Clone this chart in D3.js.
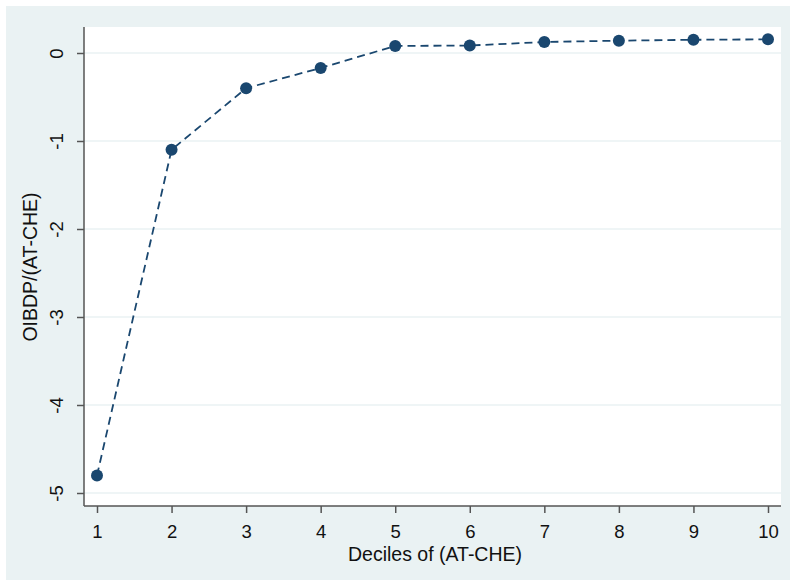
<!DOCTYPE html>
<html>
<head>
<meta charset="utf-8">
<script src="https://cdn.jsdelivr.net/npm/d3@7"></script>
<style>
  body { margin: 0; background: #fff; }
  text { font-family: "Liberation Sans", Arial, sans-serif; fill: #111; }
</style>
</head>
<body>
<div id="chart"></div>
<script>
// deciles of (AT-CHE) and mean OIBDP/(AT-CHE) per decile
const deciles = [1, 2, 3, 4, 5, 6, 7, 8, 9, 10];
const ratios = [-4.80, -1.10, -0.40, -0.17, 0.08, 0.085, 0.125, 0.14, 0.15, 0.155];
const yTicks = [0, -1, -2, -3, -4, -5];

const width = 790, height = 580;
const plot = {left: 84, top: 27, right: 781, bottom: 506};

const svg = d3.select('#chart').append('svg')
  .attr('width', width)
  .attr('height', height);

// outer graph region and white plot region
svg.append('rect')
  .attr('x', 6).attr('y', 6)
  .attr('width', width - 6).attr('height', height - 6)
  .attr('fill', '#eaf2f3');
svg.append('rect')
  .attr('x', plot.left).attr('y', plot.top)
  .attr('width', plot.right - plot.left).attr('height', plot.bottom - plot.top)
  .attr('fill', '#fff');

const x = d3.scaleLinear().domain([1, 10]).range([97, 768]);
const y = d3.scaleLinear().domain([-5, 0]).range([493, 53]);

// gridlines
svg.append('g')
  .selectAll('line')
  .data(yTicks)
  .join('line')
    .attr('x1', plot.left).attr('x2', plot.right)
    .attr('y1', d => y(d)).attr('y2', d => y(d))
    .attr('stroke', '#eaf2f3')
    .attr('stroke-width', 1.5);

// y axis, plain hyphen for negatives like Stata
const yAxis = svg.append('g')
  .attr('transform', `translate(${plot.left},0)`)
  .call(d3.axisLeft(y).tickValues(yTicks).tickSize(7).tickPadding(0).tickFormat(d => String(d)));
yAxis.select('.domain').attr('d', `M0,${plot.top}V${plot.bottom}`);
yAxis.selectAll('.tick text')
  .attr('transform', 'translate(-21,0) rotate(-90)')
  .attr('x', 0).attr('dy', 0)
  .attr('text-anchor', 'middle')
  .style('font-size', '18.5px');

// x axis
const xAxis = svg.append('g')
  .attr('transform', `translate(0,${plot.bottom})`)
  .call(d3.axisBottom(x).tickValues(deciles).tickSize(7).tickPadding(0).tickFormat(d => String(d)));
xAxis.select('.domain').attr('d', `M${plot.left},0H${plot.right}`);
xAxis.selectAll('.tick text')
  .attr('y', 32).attr('dy', 0)
  .style('font-size', '18.5px');

svg.selectAll('.domain, .tick line')
  .attr('stroke', '#555')
  .attr('stroke-width', 1.5);
svg.selectAll('.tick text').attr('fill', '#111');

// axis titles
svg.append('text')
  .attr('x', 435).attr('y', 561)
  .attr('text-anchor', 'middle')
  .style('font-size', '19.5px')
  .text('Deciles of (AT-CHE)');
svg.append('text')
  .attr('transform', 'translate(37,267) rotate(-90)')
  .attr('text-anchor', 'middle')
  .style('font-size', '19.5px')
  .text('OIBDP/(AT-CHE)');

// dashed connecting line and markers
const line = d3.line()
  .x((_, i) => x(deciles[i]))
  .y(d => y(d));

svg.append('path')
  .datum(ratios)
  .attr('d', line)
  .attr('fill', 'none')
  .attr('stroke', '#1a476f')
  .attr('stroke-width', 1.8)
  .attr('stroke-dasharray', '8,5');

svg.append('g')
  .selectAll('circle')
  .data(ratios)
  .join('circle')
    .attr('cx', (_, i) => x(deciles[i]))
    .attr('cy', d => y(d))
    .attr('r', 6)
    .attr('fill', '#1a476f');
</script>
</body>
</html>
